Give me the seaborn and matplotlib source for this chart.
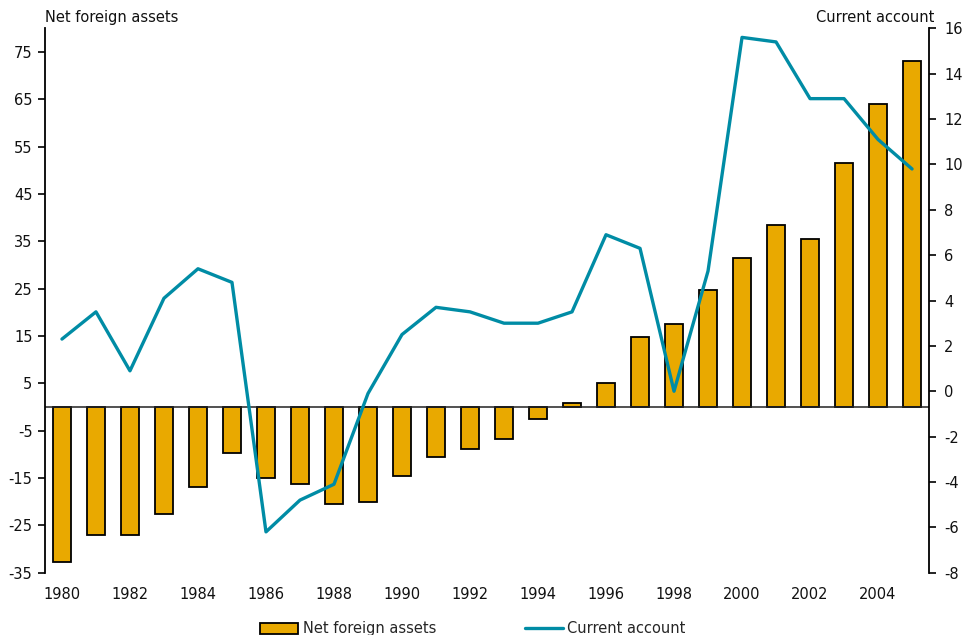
import numpy as np
import pandas as pd
import matplotlib
matplotlib.use("Agg")
import matplotlib.pyplot as plt
from matplotlib.patches import Patch
from matplotlib.lines import Line2D
import seaborn as sns

years = list(range(1980, 2006))
net_foreign_assets = [-32.7, -27.0, -27.1, -22.7, -16.9, -9.8, -15.0, -16.3, -20.5, -20.1,
                      -14.6, -10.6, -8.9, -6.8, -2.6, 0.8, 5.0, 14.7, 17.6, 24.7,
                      31.4, 38.4, 35.5, 51.6, 64.0, 73.1]
current_account = [2.3, 3.5, 0.9, 4.1, 5.4, 4.8, -6.2, -4.8, -4.1, -0.1,
                   2.5, 3.7, 3.5, 3.0, 3.0, 3.5, 6.9, 6.3, 0.0, 5.3,
                   15.6, 15.4, 12.9, 12.9, 11.1, 9.8]
left_ticks = list(range(-35, 80, 10))
right_ticks = list(range(-8, 17, 2))

bar_color = "#E9A900"
line_color = "#008CA5"

sns.set_theme(style="white")
plt.rcParams["font.family"] = ["DejaVu Sans"]
plt.rcParams["font.size"] = 10.5
plt.rcParams["axes.unicode_minus"] = False

df = pd.DataFrame({"year": [str(y) for y in years],
                   "pos": np.arange(len(years)),
                   "nfa": net_foreign_assets,
                   "ca": current_account})

fig = plt.figure(figsize=(9.71, 6.35), dpi=100)
ax = fig.add_axes([0.0463, 0.0981, 0.9105, 0.8573])

sns.barplot(data=df, x="year", y="nfa", color=bar_color, width=0.52,
            edgecolor="black", linewidth=1.3, saturation=1, ax=ax)
ax.axhline(0, color="#222222", lw=1.1, zorder=1.5)
ax.set_ylim(-35, 80)
ax.set_xlim(-0.5, len(years) - 0.5)
ax.set_yticks(left_ticks)
ax.set_xticks(np.arange(0, len(years), 2))
ax.set_xticklabels([str(y) for y in years[::2]])
ax.set_xlabel("")
ax.set_ylabel("")

ax2 = ax.twinx()
sns.lineplot(data=df, x="pos", y="ca", color=line_color, lw=2.4, ax=ax2)
ax2.set_ylim(-8, 16)
ax2.set_yticks(right_ticks)
ax2.set_xlim(-0.5, len(years) - 0.5)
ax2.set_ylabel("")
ax2.set_xlabel("")

for a in (ax, ax2):
    for s in ("top", "bottom"):
        a.spines[s].set_visible(False)
    a.tick_params(axis="x", length=0, pad=10, labelsize=10.5, colors="#111111")
ax.spines["right"].set_visible(False)
ax.spines["left"].set_color("black")
ax.spines["left"].set_linewidth(1.3)
ax2.spines["left"].set_visible(False)
ax2.spines["right"].set_color("black")
ax2.spines["right"].set_linewidth(1.3)
ax.tick_params(axis="y", left=True, length=5, width=1.2, color="black",
               labelsize=10.5, pad=4, labelcolor="#111111")
ax2.tick_params(axis="y", right=True, length=5, width=1.2, color="black",
                labelsize=10.5, pad=6, labelcolor="#111111")

fig.text(0.0463, 0.973, "Net foreign assets", ha="left", va="center",
         fontsize=10.5, color="#111111")
fig.text(0.962, 0.973, "Current account", ha="right", va="center",
         fontsize=10.5, color="#111111")

handles = [Patch(facecolor=bar_color, edgecolor="black", linewidth=1.3),
           Line2D([0], [0], color=line_color, lw=2.4)]
fig.legend(handles, ["Net foreign assets", "Current account"], loc="center",
           bbox_to_anchor=(0.487, 0.01), ncol=2, frameon=False, fontsize=10.5,
           handlelength=2.6, handletextpad=0.3, columnspacing=6.1,
           handleheight=0.8)

fig.savefig("out.png", dpi=100)
